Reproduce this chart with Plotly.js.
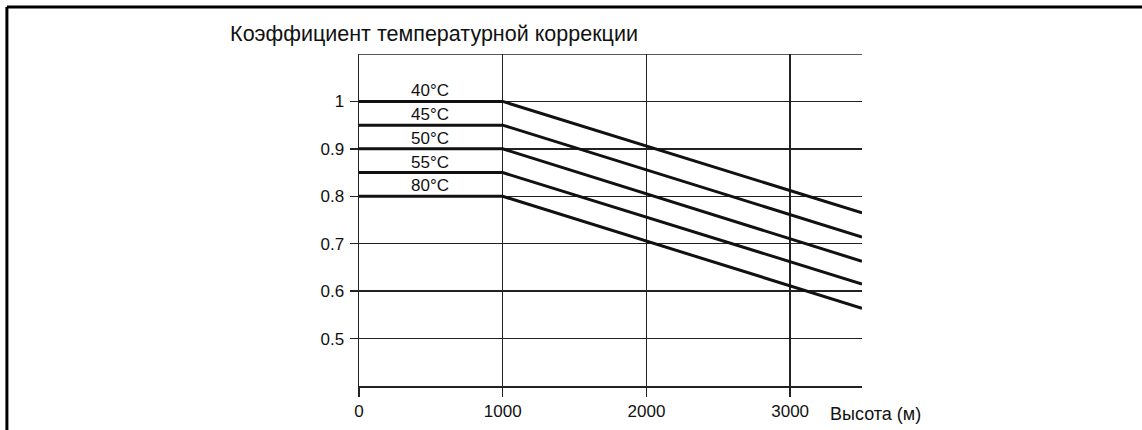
<!DOCTYPE html>
<html>
<head>
<meta charset="utf-8">
<script src="https://cdn.plot.ly/plotly-3.0.1.min.js"></script>
<style>
  html, body { margin: 0; padding: 0; background: #fff; }
  #chart { width: 1142px; height: 430px; }
</style>
</head>
<body>
<div id="chart"></div>
<script>
// Data
const tempLabels = ['40°C', '45°C', '50°C', '55°C', '80°C'];
const altitudes = [0, 1000, 3500];
const coef40 = [1.0, 1.0, 0.765];
const coef45 = [0.95, 0.95, 0.714];
const coef50 = [0.9, 0.9, 0.663];
const coef55 = [0.85, 0.85, 0.615];
const coef80 = [0.8, 0.8, 0.564];
const xTickVals = [0, 1000, 2000, 3000];
const yTickVals = [0.5, 0.6, 0.7, 0.8, 0.9, 1];
const yTickText = ['0.5', '0.6', '0.7', '0.8', '0.9', '1'];
const labelX = 495;

const series = [coef40, coef45, coef50, coef55, coef80];
const font = '"Liberation Sans", Arial, sans-serif';
const ink = '#111';
const grid = '#222';

const traces = series.map((ys, i) => ({
  x: altitudes, y: ys, mode: 'lines', type: 'scatter',
  name: tempLabels[i], line: { color: ink, width: 3 }, hoverinfo: 'none'
}));

const annotations = series.map((ys, i) => ({
  x: labelX, y: ys[0], xref: 'x', yref: 'y', text: tempLabels[i],
  showarrow: false, xanchor: 'center', yanchor: 'bottom', yshift: -1,
  font: { family: font, size: 17, color: ink }
}));
annotations.push({
  x: 0.932, y: -0.084, xref: 'paper', yref: 'paper', text: 'Высота (м)',
  showarrow: false, xanchor: 'left', yanchor: 'middle',
  font: { family: font, size: 18, color: ink }
});

const layout = {
  width: 1142, height: 430,
  margin: { l: 359, r: 280, t: 54, b: 44, pad: 0 },
  paper_bgcolor: '#fff', plot_bgcolor: '#fff',
  showlegend: false,
  title: {
    text: 'Коэффициент температурной коррекции',
    xref: 'container', yref: 'container', x: 0.2015, xanchor: 'left',
    y: 0.923, yanchor: 'middle',
    font: { family: font, size: 21.5, color: ink }
  },
  xaxis: {
    range: [0, 3500], tickvals: xTickVals, ticks: 'outside', ticklen: 9,
    tickcolor: grid, tickwidth: 1.5, showgrid: true, gridcolor: grid, gridwidth: 1.5,
    showline: true, linecolor: grid, linewidth: 1.5, zeroline: false,
    tickfont: { family: font, size: 17, color: ink }, fixedrange: true
  },
  yaxis: {
    range: [0.4, 1.1], tickvals: yTickVals, ticktext: yTickText, ticks: 'outside', ticklen: 8,
    ticklabelstandoff: 2,
    tickcolor: grid, tickwidth: 1.5, showgrid: true, gridcolor: grid, gridwidth: 1.5,
    showline: true, linecolor: grid, linewidth: 1.5, zeroline: false,
    tickfont: { family: font, size: 17, color: ink }, fixedrange: true
  },
  annotations: annotations,
  shapes: [
    { type: 'line', xref: 'x', yref: 'y', x0: 0, x1: 3500, y0: 1.1, y1: 1.1,
      line: { color: grid, width: 1.5 } },
    { type: 'line', xref: 'paper', yref: 'paper', x0: -0.700, x1: 1.6, y0: 1.1416, y1: 1.1416,
      line: { color: '#000', width: 3 } },
    { type: 'line', xref: 'paper', yref: 'paper', x0: -0.700, x1: -0.700, y0: 1.1416, y1: -0.2,
      line: { color: '#000', width: 3 } }
  ]
};

Plotly.newPlot('chart', traces, layout, { displayModeBar: false, staticPlot: true });
</script>
</body>
</html>
